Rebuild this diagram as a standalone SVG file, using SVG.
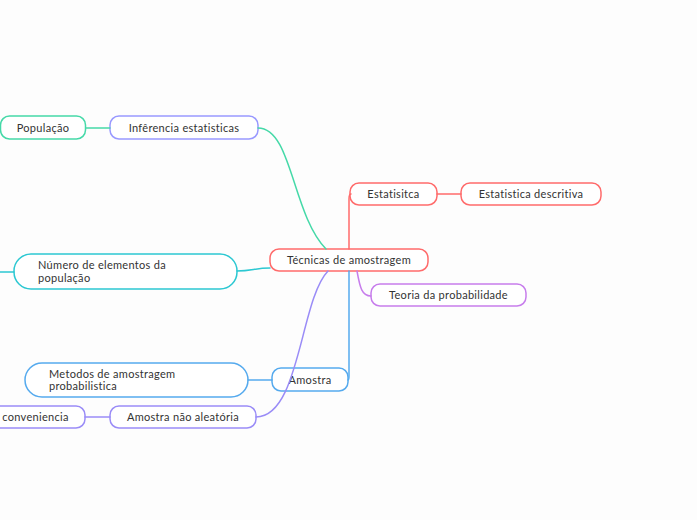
<svg xmlns="http://www.w3.org/2000/svg" width="697" height="520" viewBox="0 0 697 520">
<style>
.n{fill:#fff;stroke-width:1.5}
.t{font-family:Lato,"Noto Sans",sans-serif;font-size:11px;letter-spacing:0.3px;fill:#333}
.c{fill:none;stroke-width:1.5;stroke-linecap:round}
</style>
<rect width="697" height="520" fill="#fdfdfd"/>
<g id="central"><rect class="n" x="270" y="249" width="158" height="22" rx="9" stroke="#ff6b6b"/><text class="t" x="349" y="264" text-anchor="middle">Técnicas de amostragem</text></g>
<g id="estatisitca"><rect class="n" x="350" y="183" width="87" height="22" rx="9" stroke="#ff6b6b"/><text class="t" x="393.5" y="198" text-anchor="middle">Estatisitca</text></g>
<g id="descritiva"><rect class="n" x="461" y="183" width="140" height="22" rx="9" stroke="#ff6b6b"/><text class="t" x="531" y="198" text-anchor="middle">Estatistica descritiva</text></g>
<g id="teoria"><rect class="n" x="371" y="284" width="155" height="22" rx="9" stroke="#c77dec"/><text class="t" x="448.5" y="299" text-anchor="middle">Teoria da probabilidade</text></g>
<g id="inferencia"><rect class="n" x="110" y="116" width="148" height="23" rx="9" stroke="#9999ff"/><text class="t" x="184" y="131.5" text-anchor="middle">Infêrencia estatisticas</text></g>
<g id="populacao"><rect class="n" x="0.5" y="116" width="85" height="23" rx="9" stroke="#45d9a8"/><text class="t" x="43" y="131.5" text-anchor="middle">População</text></g>
<g id="numero"><rect class="n" x="14" y="254" width="223" height="35" rx="17" stroke="#2cc8d2"/><text class="t" x="38" y="269">Número de elementos da</text><text class="t" x="38" y="282">população</text></g>
<g id="amostra"><rect class="n" x="272" y="368" width="76" height="23" rx="9" stroke="#55aaee"/><text class="t" x="310" y="383.5" text-anchor="middle">Amostra</text></g>
<g id="metodos"><rect class="n" x="25" y="363" width="223" height="34" rx="17" stroke="#55aaee"/><text class="t" x="49" y="378">Metodos de amostragem</text><text class="t" x="49" y="390">probabilistica</text></g>
<g id="nao-aleatoria"><rect class="n" x="110" y="406" width="146" height="22" rx="9" stroke="#9a8cf7"/><text class="t" x="183" y="421" text-anchor="middle">Amostra não aleatória</text></g>
<g id="conveniencia"><rect class="n" x="-16" y="406" width="101" height="22" rx="9" stroke="#9a8cf7"/><text class="t" x="35.5" y="421" text-anchor="middle">conveniencia</text></g>
<g id="connectors">
<path class="c" d="M258 128 C292 128 292 214 326 249" stroke="#45d9a8" stroke-width="2"/>
<path class="c" d="M86 128 L110 128" stroke="#45d9a8"/>
<path class="c" d="M349 249 L349 199 Q349 194 351 194" stroke="#ff6b6b"/>
<path class="c" d="M437 194 L461 194" stroke="#ff6b6b"/>
<path class="c" d="M357 271 C360 288 362 296 371 296" stroke="#c77dec"/>
<path class="c" d="M237 271 C252 271 255 268 270 268" stroke="#2cc8d2"/>
<path class="c" d="M0 272 L14 272" stroke="#2cc8d2"/>
<path class="c" d="M349 271 L349 376 Q349 380 348 380" stroke="#55aaee"/>
<path class="c" d="M248 380 L272 380" stroke="#55aaee"/>
<path class="c" d="M256 417 C300 417 300 300 328 271" stroke="#9a8cf7"/>
<path class="c" d="M85 417 L110 417" stroke="#9a8cf7"/>
</g>
</svg>
